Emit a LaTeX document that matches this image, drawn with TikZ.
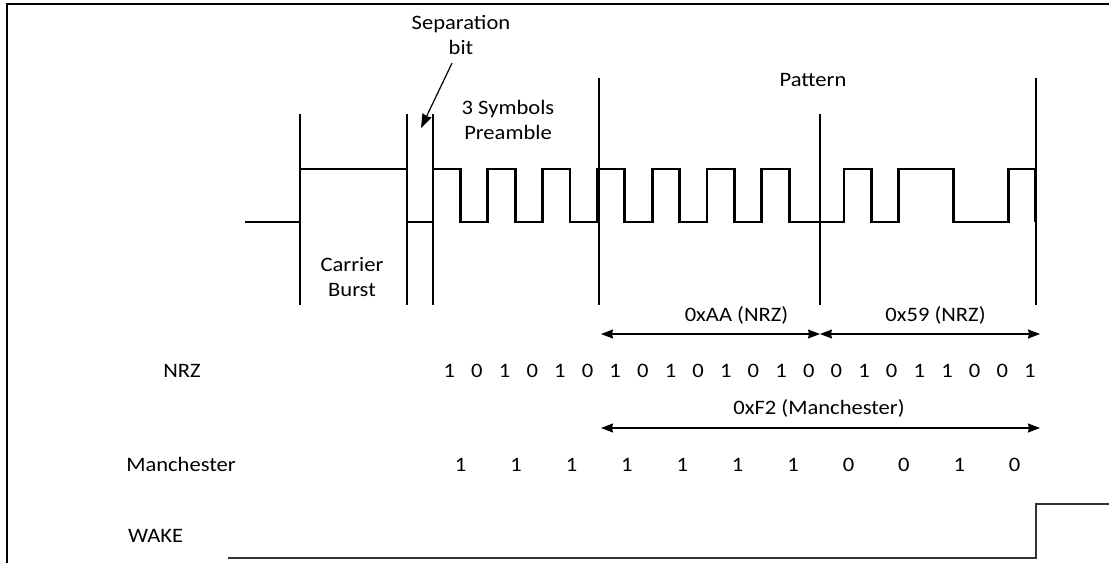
\documentclass[tikz,border=0pt]{standalone}
\usepackage{fontspec}
\setmainfont{Carlito}[FakeStretch=1.1]
\usetikzlibrary{arrows.meta}
\begin{document}
\begin{tikzpicture}[x=1pt, y=-1pt,
    lbl/.style={font=\fontsize{20.5}{25.5}\selectfont, inner sep=0pt, align=center},
    signal/.style={line width=2.8pt, line join=miter},
    marker/.style={line width=1.2pt},
    dimarrow/.style={line width=1.2pt, {Stealth[length=12pt,width=9pt,inset=1pt]}-{Stealth[length=12pt,width=9pt,inset=1pt]}},
    pointer/.style={line width=1.2pt, -{Stealth[length=14pt,width=10pt,inset=1pt]}}]
    \useasboundingbox (0,0) rectangle (1109,563);
    \draw[line width=2.5pt, line join=miter] (7,563) -- (7,4) -- (1109,4); % marco

    % trama: portadora, bit de separacion, preambulo y patron
    \draw[signal] (245,222) -- (300,222) -- (300,169) -- (407,169) -- (407,222) -- (433,222)
        \foreach \k/\b in {0/1,1/0,2/1,3/0,4/1,5/0,6/1,7/0,8/1,9/0,10/1,11/0,12/1,13/0,
                           14/0,15/1,16/0,17/1,18/1,19/0,20/0,21/1}
            { -- (433+27.4*\k, 222-53*\b) -- (460.4+27.4*\k, 222-53*\b) } -- ++(0,53);
    \foreach \x/\t in {300/114, 407/114, 433/114, 599/78, 820/114, 1036/78}
        \draw[marker] (\x,\t) -- (\x,305); % lineas de division

    \node[lbl] (sepLbl) at (461,35) {Separation\\bit};
    \node[lbl] (preLbl) at (508,120) {3 Symbols\\Preamble};
    \node[lbl] (carLbl) at (352,277) {Carrier\\Burst};
    \node[lbl, anchor=base] (patLbl) at (813,86) {Pattern};
    \coordinate (sepTip) at (421,128);
    \draw[pointer] ([shift={(-9,8)}]sepLbl.south) -- (sepTip); % flecha al bit de separacion

    % cotas de los bytes
    \coordinate (aaL) at (601,334);
    \coordinate (aaR) at (820,334);
    \coordinate (nineR) at (1040,334);
    \coordinate (manL) at (601,428);
    \coordinate (manR) at (1040,428);
    \draw[dimarrow] (aaL) -- (aaR);
    \draw[dimarrow] (aaR) -- (nineR);
    \draw[dimarrow] (manL) -- (manR);
    \node[lbl, anchor=base] (aaLbl) at (736.5,321) {0xAA (NRZ)};
    \node[lbl, anchor=base] (nineLbl) at (935.5,321) {0x59 (NRZ)};
    \node[lbl, anchor=base] (f2Lbl) at (819,414) {0xF2 (Manchester)};

    % filas de bits
    \node[lbl, anchor=base] (nrzLbl) at (182,377) {NRZ};
    \foreach \b [count=\k from 0] in {1,0,1,0,1,0,1,0,1,0,1,0,1,0,0,1,0,1,1,0,0,1}
        \node[lbl, anchor=base] (nrz\k) at (449.3+27.65*\k, 377) {\b};
    \node[lbl, anchor=base] (manLbl) at (181,471) {Manchester};
    \foreach \b [count=\k from 0] in {1,1,1,1,1,1,1,0,0,1,0}
        \node[lbl, anchor=base] (man\k) at (460.7+55.4*\k, 471) {\b};

    % salida WAKE
    \node[lbl, anchor=base west] (wakeLbl) at (128,542) {WAKE};
    \draw[line width=2pt, draw=black!80] (228,558) -- (1036,558) -- (1036,504) -- (1109,504);
\end{tikzpicture}
\end{document}
